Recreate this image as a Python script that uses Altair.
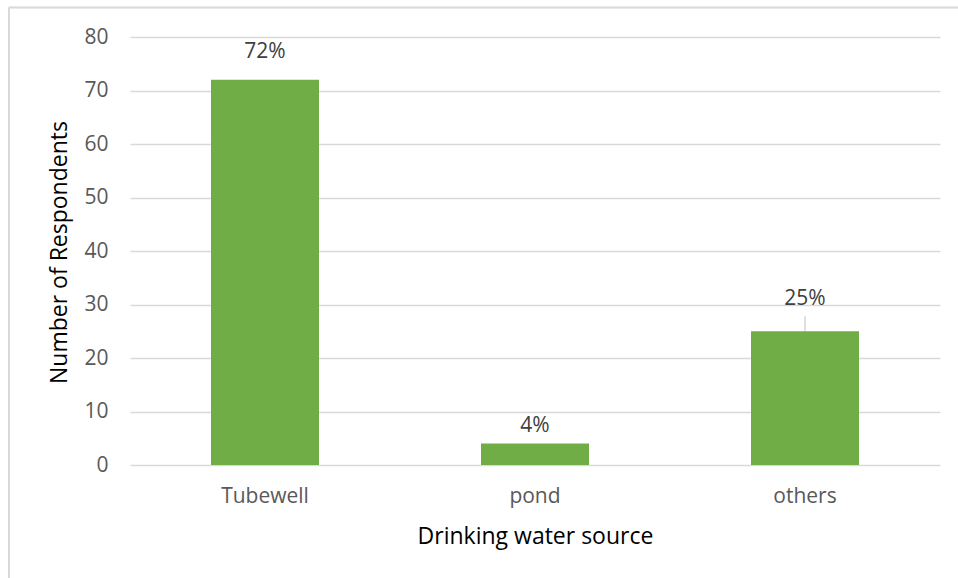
import altair as alt
import pandas as pd

# Survey results: main source of drinking water
sources = ["Tubewell", "pond", "others"]
respondents = [72, 4, 25]
share_labels = ["72%", "4%", "25%"]

df = pd.DataFrame({"source": sources, "count": respondents, "share": share_labels})

FONT = "Open Sans"
GREEN = "#70AD47"
GRID = "#D9D9D9"

# how far (px) each percentage label sits above its bar
label_lift = {"Tubewell": 22, "pond": 12, "others": 26}

x_enc = alt.X(
    "source:N",
    sort=sources,
    scale=alt.Scale(paddingInner=0.6, paddingOuter=0.3),
    axis=alt.Axis(
        title="Drinking water source",
        labelAngle=0,
        labelFont=FONT,
        labelFontSize=21,
        labelColor="#595959",
        labelPadding=20,
        titleFont=FONT,
        titleFontSize=23,
        titleFontWeight="normal",
        titleColor="#000000",
        titleBaseline="alphabetic",
        titleY=78,
        ticks=False,
        domain=False,
    ),
)

y_enc = alt.Y(
    "count:Q",
    scale=alt.Scale(domain=[0, 80], nice=False),
    axis=alt.Axis(
        title="Number of Respondents",
        values=list(range(0, 81, 10)),
        labelFont=FONT,
        labelFontSize=21,
        labelColor="#595959",
        labelPadding=22,
        titleFont=FONT,
        titleFontSize=23,
        titleFontWeight="normal",
        titleColor="#000000",
        titleBaseline="middle",
        titleAngle=-90,
        titleX=-71,
        titleY=215,
        gridColor=GRID,
        gridWidth=1.3,
        ticks=False,
        domain=False,
    ),
)

bars = alt.Chart(df).mark_bar(color=GREEN).encode(x=x_enc, y=y_enc)

labels = [
    alt.Chart(df)
    .transform_filter(alt.datum.source == name)
    .mark_text(font=FONT, fontSize=21, color="#404040", baseline="alphabetic", dy=-lift)
    .encode(x=alt.X("source:N", sort=sources), y="count:Q", text="share:N")
    for name, lift in label_lift.items()
]

# leader line joining the moved "others" label to its bar
leader = (
    alt.Chart(df)
    .transform_filter(alt.datum.source == "others")
    .mark_tick(orient="vertical", size=15, thickness=1, color="#A6A6A6", yOffset=-7.5)
    .encode(x=alt.X("source:N", sort=sources), y="count:Q")
)

# chart-area frame (top and left edges)
frame_top = alt.Chart(df).mark_rule(color=GRID, strokeWidth=1.5).encode(
    x=alt.value(-121), x2=alt.value(830), y=alt.value(-29.5)
)
frame_left = alt.Chart(df).mark_rule(color=GRID, strokeWidth=1.5).encode(
    x=alt.value(-121), y=alt.value(-29.5), y2=alt.value(545)
)

chart = (
    alt.layer(frame_top, frame_left, bars, leader, *labels)
    .properties(
        width=810,
        height=428,
        autosize=alt.AutoSizeParams(type="none"),
        padding={"left": 130, "top": 37, "right": 18, "bottom": 113},
        background="white",
    )
    .configure_view(stroke=None)
)

chart.save("out.html", embed_options={"renderer": "svg", "actions": False})
